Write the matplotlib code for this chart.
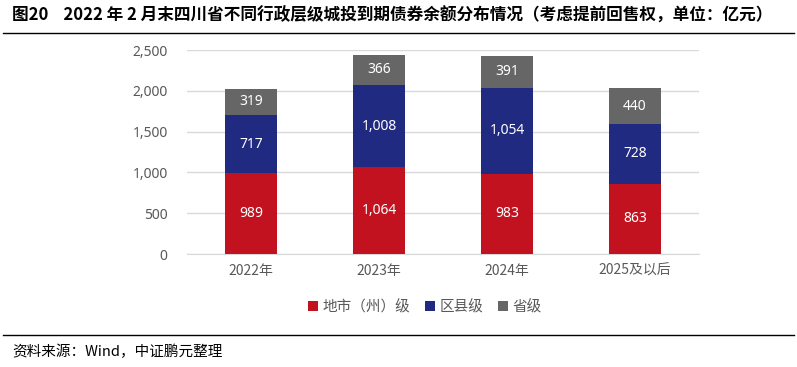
import matplotlib.pyplot as plt
import numpy as np

plt.rcParams['font.family'] = ['Noto Sans CJK SC', 'DejaVu Sans']

categories = ["2022年", "2023年", "2024年", "2025及以后"]
city = [989, 1064, 983, 863]
county = [717, 1008, 1054, 728]
province = [319, 366, 391, 440]
series_names = ["地市（州）级", "区县级", "省级"]
colors = ["#C3121F", "#202A80", "#666666"]

fig = plt.figure(figsize=(7.97, 3.67), dpi=100)
W, H = 797, 367

ax = fig.add_axes([187 / W, 1 - 254 / H, (699 - 187) / W, (254 - 50) / H])

x = np.arange(len(categories))
bottom = np.zeros(len(categories))
for vals, name, col in zip([city, county, province], series_names, colors):
    ax.bar(x, vals, width=0.4, bottom=bottom, color=col, label=name, zorder=3)
    for xi, b, v in zip(x, bottom, vals):
        ax.text(xi, b + v / 2, f"{v:,}", ha="center", va="center",
                color="white", fontsize=10, family=["Noto Sans", "DejaVu Sans"])
    bottom = bottom + np.array(vals)

ax.set_xlim(-0.5, len(categories) - 0.5)
ax.set_ylim(0, 2500)
ax.set_yticks(range(0, 2501, 500))
ax.set_yticklabels([f"{v:,}" for v in range(0, 2501, 500)],
                   family=["Noto Sans", "DejaVu Sans"])
ax.set_xticks(x)
ax.set_xticklabels(categories)
ax.tick_params(axis="both", length=0, colors="#595959", labelsize=10)
ax.tick_params(axis="y", pad=14)
ax.tick_params(axis="x", pad=7)
ax.grid(axis="y", color="#D9D9D9", linewidth=1, zorder=0)
for s in ["top", "right", "left"]:
    ax.spines[s].set_visible(False)
ax.spines["bottom"].set_color("#D9D9D9")

leg = fig.legend(loc="center", bbox_to_anchor=(425 / W, 1 - 307 / H), ncol=3,
                 frameon=False, fontsize=10.5, handlelength=0.7, handleheight=0.7,
                 handletextpad=0.3, columnspacing=1.0)
for t in leg.get_texts():
    t.set_color("#595959")

fig.text(12 / W, 1 - 16 / H,
         "图20    2022 年 2 月末四川省不同行政层级城投到期债券余额分布情况（考虑提前回售权，单位：亿元）",
         ha="left", va="center", fontsize=12, fontweight="bold", color="black")
fig.add_artist(plt.Line2D([3 / W, 794 / W], [1 - 33 / H, 1 - 33 / H], color="black", linewidth=1))
fig.add_artist(plt.Line2D([3 / W, 794 / W], [1 - 335 / H, 1 - 335 / H], color="black", linewidth=1))
fig.text(12 / W, 1 - 352 / H, "资料来源：Wind，中证鹏元整理", ha="left", va="center",
         fontsize=10.5, color="black")

fig.savefig("out.png", dpi=100)
